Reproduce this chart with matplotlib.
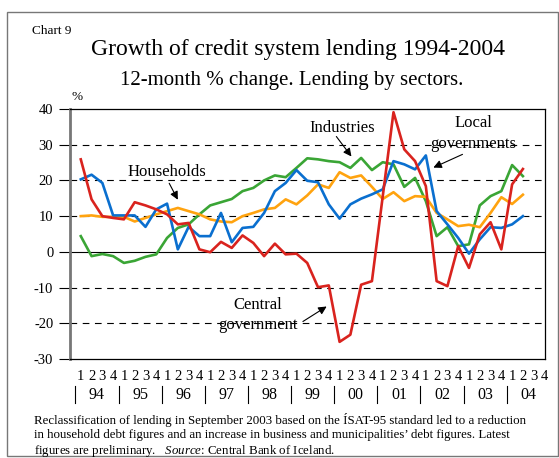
import matplotlib
matplotlib.use("Agg")
import matplotlib.pyplot as plt
from matplotlib.patches import Rectangle
import numpy as np

plt.rcParams['font.family'] = ['Liberation Serif', 'DejaVu Serif']
plt.rcParams['axes.unicode_minus'] = False
plt.rcParams['mathtext.fontset'] = 'custom'
plt.rcParams['mathtext.rm'] = 'Liberation Serif'
plt.rcParams['mathtext.it'] = 'Liberation Serif:italic'

# quarterly data, 1994Q1 - 2004Q2 (12-month % change)
households = [10, 10.2, 9.8, 9.8, 9.8, 8.5, 9.5, 10.5, 11.4, 12.3, 11.4, 10.5,
              9.1, 8.5, 8.3, 10, 10.9, 11.9, 12.3, 14.7, 13.3, 15.8,
              18.9, 17.9, 22.3, 20.7, 21.4, 18.2, 14.8, 16.7, 14.2, 15.6,
              15.4, 10.9, 9.1, 7.2, 7.6, 6.9, 10.9, 15.3, 13.4, 16]
industries = [4.4, -1.2, -0.6, -1.2, -3.1, -2.5, -1.4, -0.7, 3.9, 6.7, 7.7, 10.5,
              13, 13.9, 14.8, 17, 17.9, 20, 21.4, 20.9, 23.5, 26.2,
              25.9, 25.4, 25.1, 23.5, 26.3, 22.9, 25.1, 24.5, 18.2, 20.7,
              14.2, 4.4, 6.9, 1.6, 2.1, 13, 15.6, 17, 24.3, 21.2]
local_gov = [20.3, 21.6, 19.3, 10.2, 10.2, 10.2, 7, 11.9, 13.5, 0.7, 7, 4.4,
             4.4, 10.9, 2.7, 6.7, 7, 10.9, 17, 19.3, 22.9, 19.9,
             19.5, 13.3, 9.3, 13.3, 14.9, 16.1, 17.5, 25.4, 24.5, 23.1,
             27, 11.4, 7.7, 3.9, -0.5, 3.5, 6.9, 6.7, 7.7, 10]
central_gov = [25.9, 14.7, 10, 9.5, 9.1, 13.9, 13, 11.9, 10.5, 7.7, 8.1, 0.7,
               -0.1, 2.8, 1.1, 4.6, 2.5, -1.2, 2.3, -0.7, -0.5, -3.1,
               -9.9, -9.4, -25.2, -23.2, -9.2, -8.2, 15.5, 39.1, 28.7, 25.4,
               18.4, -8.2, -9.6, 1.6, -4.5, 4.9, 8.3, 0.7, 18.9, 23.2]
years = ['94', '95', '96', '97', '98', '99', '00', '01', '02', '03', '04']
quarters = ['1', '2', '3', '4']

W, H = 559, 458
fig = plt.figure(figsize=(W / 100, H / 100), dpi=100)


def fx(px):
    return px / W


def fy(py):
    return 1 - py / H


# outer frame
fig.patches.append(Rectangle((fx(7), fy(456)), fx(551), (456 - 12) / H,
                             transform=fig.transFigure, fill=False,
                             edgecolor='#777777', lw=1))

ax = fig.add_axes([fx(70), fy(359), fx(545) - fx(70), (359 - 109) / H])

x = np.arange(len(households))
ax.plot(x, industries, color='#3aa535', lw=1.9, zorder=3)
ax.plot(x, households, color='#ffa30f', lw=1.9, zorder=3)
ax.plot(x, local_gov, color='#0a6fcf', lw=1.9, zorder=4)
ax.plot(x, central_gov, color='#d9231e', lw=1.9, zorder=5)

ax.set_xlim(-1, 43.05)
ax.set_ylim(-30, 40)
ax.set_yticks(range(-30, 41, 10))
ax.set_xticks([])
for v in [30, 20, 10, -10, -20]:
    ax.axhline(v, color='black', lw=0.8, ls=(0, (6, 5)), zorder=1)
ax.axhline(0, color='black', lw=0.8, zorder=1)

ax.spines['left'].set_color('#777777')
ax.spines['left'].set_linewidth(2)
for s in ['top', 'right', 'bottom']:
    ax.spines[s].set_linewidth(0.9)
ax.tick_params(axis='y', direction='out', length=8, width=0.8,
               labelsize=10.5, pad=4)

# x labels: quarters and years
tr = ax.get_xaxis_transform()
ah = 359 - 109
for k in range(len(years)):
    for q, ql in enumerate(quarters):
        ax.text(4 * k + q, (359 - 377) / ah, ql, transform=tr, ha='center',
                va='center', fontsize=10.5)
    ax.text(4 * k + 1.5, (359 - 395) / ah, years[k], transform=tr,
            ha='center', va='center', fontsize=11.5)
    sep = 4 * k - 0.5
    ax.plot([sep, sep], [(359 - 386) / ah, (359 - 403) / ah],
            transform=tr, color='black', lw=0.8, clip_on=False)

# labels and arrows
arrow = dict(arrowstyle='-|>', color='black', lw=0.8, mutation_scale=12,
             shrinkA=0, shrinkB=0)
ax.text(8.0, 22.4, 'Households', ha='center', va='center', fontsize=12)
ax.annotate('', xy=(9.0, 14.6), xytext=(8.2, 19.2), arrowprops=arrow)
ax.text(16.4, -17.6, 'Central\ngovernment', ha='center', va='center',
        fontsize=12, linespacing=1.35)
ax.annotate('', xy=(22.8, -15.3), xytext=(20.6, -19.5), arrowprops=arrow)
ax.text(24.2, 34.8, 'Industries', ha='center', va='center', fontsize=12)
ax.annotate('', xy=(25.1, 26.7), xytext=(23.7, 32.3), arrowprops=arrow)
ax.text(36.4, 33.1, 'Local\ngovernments', ha='center', va='center',
        fontsize=12, linespacing=1.4)
ax.annotate('', xy=(32.7, 23.6), xytext=(35.4, 27.3), arrowprops=arrow)

# titles
fig.text(fx(32), fy(31), 'Chart 9', fontsize=9.5, va='center')
fig.text(fx(298), fy(49), 'Growth of credit system lending 1994-2004',
         fontsize=17, ha='center', va='center')
fig.text(fx(292), fy(80), '12-month % change. Lending by sectors.',
         fontsize=15, ha='center', va='center')
fig.text(fx(71), fy(97), '%', fontsize=9.5, va='center')

note = ("Reclassification of lending in September 2003 based on the \u00cdSAT-95 standard led to a reduction\n"
        "in household debt figures and an increase in business and municipalities\u2019 debt figures. Latest\n"
        "figures are preliminary.   $\\it{Source}$: Central Bank of Iceland.")
fig.text(fx(34), fy(413), note, fontsize=9.3, va='top', linespacing=1.22)

fig.savefig('out.png', dpi=100)
